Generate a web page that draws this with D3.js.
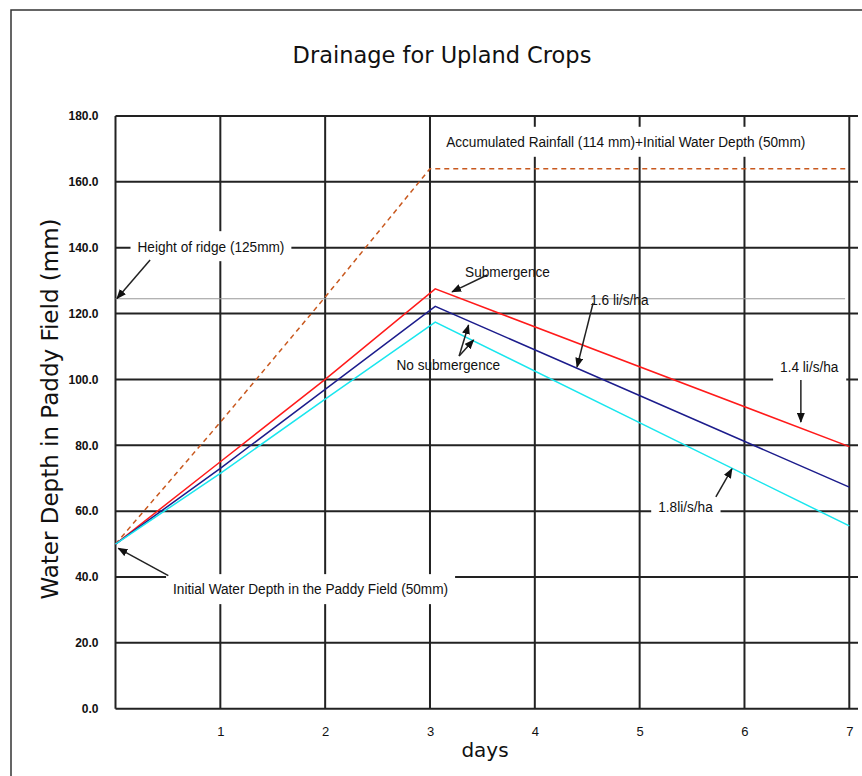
<!DOCTYPE html>
<html>
<head>
<meta charset="utf-8">
<script src="https://cdn.jsdelivr.net/npm/d3@7"></script>
<style>
  body { margin: 0; background: #fff; }
  .big { font-family: 'DejaVu Sans', sans-serif; fill: #111; }
  .note { font-family: 'Liberation Sans', Arial, sans-serif; font-size: 15.5px; fill: #111; }
  .tick text { font-family: 'Liberation Sans', Arial, sans-serif; fill: #111; }
</style>
</head>
<body>
<div id="chart"></div>
<script>
// values
const rainDays = [0, 1, 2, 3, 7];
const rainfall = [50, 87, 125, 164, 164];
const drainDays = [0, 1, 2, 3.05, 7];
const drain14 = [50, 75, 100, 127.5, 79.6];
const drain16 = [50, 73, 97, 122.2, 67.3];
const drain18 = [50, 71.5, 94, 117.4, 55.5];
const ridgeHeight = 124.5;
const yTicks = [0, 20, 40, 60, 80, 100, 120, 140, 160, 180];
const xTicks = [1, 2, 3, 4, 5, 6, 7];

// annotations: text, anchor [day, mm], white box behind it, arrows [[from], [to]]
const noteTexts = [
  'Height of ridge (125mm)',
  'Accumulated Rainfall (114 mm)+Initial Water Depth (50mm)',
  'Submergence',
  '1.6 li/s/ha',
  'No submergence',
  '1.4 li/s/ha',
  '1.8li/s/ha',
  'Initial Water Depth in the Paddy Field (50mm)'
];
const noteAt = [[0.21, 140.5], [3.154, 172.2], [3.335, 132.9], [4.528, 124.4],
  [2.68, 104.6], [6.34, 103.9], [5.177, 61.35], [0.549, 36.35]];
const noteBox = [true, true, false, false, false, true, true, true];
const noteArrows = [
  [[[0.33, 136.3], [0.014, 124.6]]],
  [],
  [[[3.545, 131.7], [3.211, 126.6]]],
  [[[4.556, 123.2], [4.403, 103.8]]],
  [[[3.278, 107.1], [3.368, 116.5]], [[3.278, 107.1], [3.416, 112.0]]],
  [[[6.538, 99.8], [6.538, 87.1]]],
  [[[5.727, 64.3], [5.88, 72.8]]],
  [[[0.504, 40.4], [0.027, 48.7]]]
];

const chart = {
  width: 862,
  height: 776,
  margin: { left: 115.5, top: 116, right: 4, bottom: 67.3 },
  narrow: 0.88,

  init() {
    const svg = d3.select('#chart').append('svg')
      .attr('width', this.width)
      .attr('height', this.height);
    this.svg = svg;

    this.x = d3.scaleLinear().domain([0, 7.083])
      .range([this.margin.left, this.width - this.margin.right]);
    this.y = d3.scaleLinear().domain([0, 180])
      .range([this.height - this.margin.bottom, this.margin.top]);

    svg.append('rect')
      .attr('x', 11).attr('y', 10)
      .attr('width', 900).attr('height', 900)
      .attr('fill', 'none').attr('stroke', '#333').attr('stroke-width', 1.5);

    this.drawMarker();
    this.drawGrid();
    this.drawAxes();
    this.drawBoxes();
    this.drawLines();
    this.drawNotes();
    this.drawTitles();
  },

  drawMarker() {
    this.svg.append('defs').append('marker')
      .attr('id', 'head')
      .attr('markerUnits', 'userSpaceOnUse')
      .attr('markerWidth', 10).attr('markerHeight', 8)
      .attr('refX', 9).attr('refY', 4)
      .attr('orient', 'auto')
      .append('path')
      .attr('d', 'M0,0L10,4L0,8z')
      .attr('fill', '#111');
  },

  drawGrid() {
    const g = this.svg.append('g').attr('stroke', '#222').attr('stroke-width', 2);
    g.selectAll('line.h').data(yTicks).join('line')
      .attr('class', 'h')
      .attr('x1', this.x(0)).attr('x2', this.x.range()[1])
      .attr('y1', (d) => this.y(d)).attr('y2', (d) => this.y(d));
    g.selectAll('line.v').data([0].concat(xTicks)).join('line')
      .attr('class', 'v')
      .attr('x1', (d) => this.x(d)).attr('x2', (d) => this.x(d))
      .attr('y1', this.y(0)).attr('y2', this.y(180));

    this.svg.append('line')
      .attr('x1', this.x(0)).attr('x2', this.x(6.96))
      .attr('y1', this.y(ridgeHeight)).attr('y2', this.y(ridgeHeight))
      .attr('stroke', '#999').attr('stroke-width', 1.2);
  },

  drawAxes() {
    const yAxis = d3.axisLeft(this.y).tickValues(yTicks)
      .tickFormat(d3.format('.1f')).tickSize(0).tickPadding(17);
    const gy = this.svg.append('g')
      .attr('transform', `translate(${this.x(0)},0)`)
      .call(yAxis);
    gy.select('.domain').remove();
    gy.selectAll('text').attr('font-size', 12).attr('font-weight', 'bold');

    const xAxis = d3.axisBottom(this.x).tickValues(xTicks)
      .tickFormat(d3.format('d')).tickSize(0).tickPadding(18);
    const gx = this.svg.append('g')
      .attr('transform', `translate(0,${this.y(0)})`)
      .call(xAxis);
    gx.select('.domain').remove();
    gx.selectAll('text').attr('font-size', 13);
  },

  // each note sits in a group squeezed sideways, like a narrow face
  noteGroup(parent, i) {
    return parent.append('g')
      .attr('transform', `translate(${this.x(noteAt[i][0])},${this.y(noteAt[i][1])}) scale(${this.narrow},1)`);
  },

  drawBoxes() {
    const layer = this.svg.append('g');
    const padX = 7 / this.narrow;
    noteTexts.forEach((t, i) => {
      if (!noteBox[i]) return;
      const g = this.noteGroup(layer, i);
      const text = g.append('text').attr('class', 'note').attr('dy', '0.35em').text(t);
      const b = text.node().getBBox();
      g.insert('rect', 'text')
        .attr('x', b.x - padX).attr('y', b.y + b.height / 2 - 15)
        .attr('width', b.width + 2 * padX).attr('height', 30)
        .attr('fill', '#fff');
      text.remove();
    });
  },

  drawLines() {
    const line = d3.line()
      .x((d) => this.x(d[0]))
      .y((d) => this.y(d[1]));

    this.svg.append('path')
      .datum(d3.zip(rainDays, rainfall))
      .attr('d', line)
      .attr('fill', 'none').attr('stroke', '#c8581e')
      .attr('stroke-width', 1.5).attr('stroke-dasharray', '5,4');

    const series = [
      { values: drain14, color: '#ff1a1a' },
      { values: drain16, color: '#1c1c8c' },
      { values: drain18, color: '#19e6ee' }
    ];
    this.svg.selectAll('path.drain').data(series).join('path')
      .attr('class', 'drain')
      .attr('d', (s) => line(d3.zip(drainDays, s.values)))
      .attr('fill', 'none')
      .attr('stroke', (s) => s.color)
      .attr('stroke-width', 1.5);
  },

  drawNotes() {
    const g = this.svg.append('g');
    noteTexts.forEach((t, i) => {
      this.noteGroup(g, i).append('text')
        .attr('class', 'note').attr('dy', '0.35em').text(t);
    });

    const arrows = noteArrows.flat();
    g.selectAll('line').data(arrows).join('line')
      .attr('x1', (d) => this.x(d[0][0])).attr('y1', (d) => this.y(d[0][1]))
      .attr('x2', (d) => this.x(d[1][0])).attr('y2', (d) => this.y(d[1][1]))
      .attr('stroke', '#222').attr('stroke-width', 1.5)
      .attr('marker-end', 'url(#head)');
  },

  drawTitles() {
    this.svg.append('text')
      .attr('class', 'big')
      .attr('x', 442).attr('y', 63)
      .attr('text-anchor', 'middle')
      .attr('font-size', 22.5)
      .text('Drainage for Upland Crops');

    this.svg.append('text')
      .attr('class', 'big')
      .attr('transform', 'translate(58,409) rotate(-90)')
      .attr('text-anchor', 'middle')
      .attr('font-size', 23)
      .text('Water Depth in Paddy Field (mm)');

    this.svg.append('text')
      .attr('class', 'big')
      .attr('x', 485).attr('y', 757)
      .attr('text-anchor', 'middle')
      .attr('font-size', 20)
      .text('days');
  }
};

chart.init();
</script>
</body>
</html>
